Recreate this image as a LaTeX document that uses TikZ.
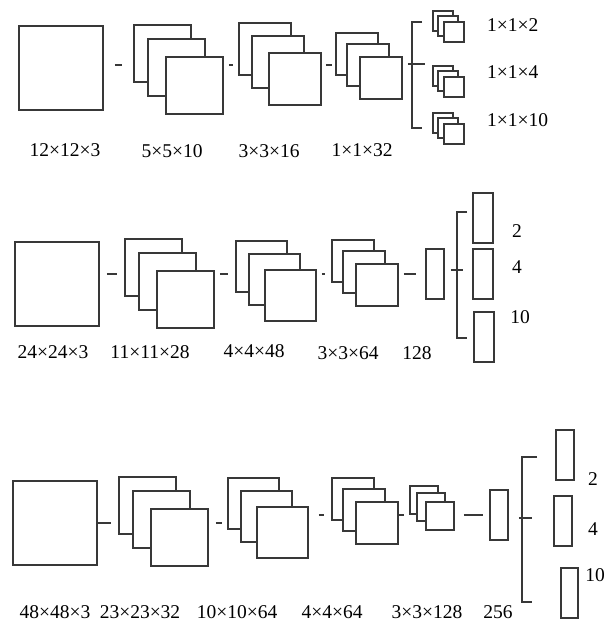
\documentclass[tikz,border=0pt]{standalone}
\usepackage{fontspec}
\setmainfont{Liberation Serif}
\usepackage{tikz}
\usetikzlibrary{positioning}

\begin{document}
\begin{tikzpicture}[x=1pt, y=-1pt,
  fmap/.style={draw=black!78, line width=1.8pt, fill=white, inner sep=0pt,
    minimum width=#1pt, minimum height=#1pt, anchor=north west},
  vbox/.style={draw=black!78, line width=1.8pt, fill=white, inner sep=0pt,
    minimum width=18pt, minimum height=50pt, anchor=north west},
  link/.style={draw=black!78, line width=1.8pt},
  lbl/.style={font=\fontsize{19.5}{22}\selectfont, inner sep=0pt}
]

  % Canvas
  \path[use as bounding box, fill=white] (0,0) rectangle (613,624);

  % Input images
  \node[fmap=84] (in1) at (18,25) {};
  \node[fmap=84] (in2) at (14,241) {};
  \node[fmap=84] (in3) at (12,480) {};

  % Feature map stacks (back, middle, front)
  \foreach \n/\x/\y/\s in {
    T2/133/24/57, T3/238/22/52, T4/335/32/42,
    O1/432/10/20, O2/432/65/20, O3/432/112/20,
    M2/124/238/57, M3/235/240/51, M4/331/239/42,
    B2/118/476/57, B3/227/477/51, B4/331/477/42, B5/409/485/28
  }{
    \foreach \k/\f in {a/0, b/0.25, c/0.57}{
      \node[fmap=\s] (\n\k) at ({\x+round(\f*\s)},{\y+round(\f*\s)}) {};
    }
  }

  % Vectors and outputs
  \node[vbox] (vec2) at (425,248) {};
  \node[vbox] (vec3) at (489,489) {};
  \node[vbox, minimum width=20pt] (out2a) at (472,192) {};
  \node[vbox, minimum width=20pt] (out2b) at (472,248) {};
  \node[vbox, minimum width=20pt] (out2c) at (473,311) {};
  \node[vbox] (out3a) at (555,429) {};
  \node[vbox] (out3b) at (553,495) {};
  \node[vbox, minimum width=17pt] (out3c) at (560,567) {};

  % Connectors between layers
  \foreach \a/\b/\s/\t in {in1/T2a/11/11, T2c/T3a/5/5, T3c/T4a/4/3}{
    \draw[link, shorten <=\s pt, shorten >=\t pt] (\a.east |- T4b) -- (\b.west |- T4b);
  }
  \foreach \a/\b/\s/\t in {in2/M2a/7/7, M2c/M3a/5/7, M3c/M4a/5/6, M4c/vec2/5/9}{
    \draw[link, shorten <=\s pt, shorten >=\t pt] (\a.east |- vec2) -- (\b.west |- vec2);
  }
  \foreach \a/\b/\s/\t in {in3/B2a/0/7, B2c/B3a/7/5}{
    \draw[link, shorten <=\s pt, shorten >=\t pt] (\a.east |- in3) -- (\b.west |- in3);
  }
  \foreach \a/\b/\s/\t in {B3c/B4a/10/7, B4c/B5a/0/5, B5c/vec3/9/6}{
    \draw[link, shorten <=\s pt, shorten >=\t pt] (\a.east |- vec3) -- (\b.west |- vec3);
  }

  % Branch brackets
  \coordinate (br1t) at (412,22);  \coordinate (br1b) at (412,128); \coordinate (br1e) at (425,64);
  \coordinate (br2t) at (457,212); \coordinate (br2b) at (457,338); \coordinate (br2e) at (463,270);
  \coordinate (br3t) at (522,457); \coordinate (br3b) at (522,602); \coordinate (br3e) at (532,518);
  \draw[link] ([xshift=10pt]br1t) -- (br1t) -- (br1b) -- ([xshift=10pt]br1b);
  \draw[link] ([xshift=10pt]br2t) -- (br2t) -- (br2b) -- ([xshift=10pt]br2b);
  \draw[link] ([xshift=15pt]br3t) -- (br3t) -- (br3b) -- ([xshift=10pt]br3b);
  \draw[link, shorten <=5pt] (T4c.east |- br1e) -- (br1e);
  \draw[link, shorten <=6pt] (vec2.east |- br2e) -- (br2e);
  \draw[link, shorten <=10pt] (vec3.east |- br3e) -- (br3e);

  % Size labels
  \foreach \n/\x/\y/\t in {
    l11/65/150/12×12×3, l12/172/151/5×5×10, l13/269/151/3×3×16, l14/362/150/1×1×32,
    l21/53/352/24×24×3, l22/150/352/11×11×28, l23/254/351/4×4×48, l24/348/353/3×3×64, l25/417/353/128,
    l31/55/612/48×48×3, l32/140/612/23×23×32, l33/237/612/10×10×64, l34/332/612/4×4×64,
    l35/427/612/3×3×128, l36/498/612/256
  }{
    \node[lbl] (\n) at (\x,\y) {\t};
  }
  \foreach \n/\y/\t in {o11/25/1×1×2, o12/72/1×1×4, o13/120/1×1×10}{
    \node[lbl, anchor=west] (\n) at (487,\y) {\t};
  }
  \foreach \n/\x/\y/\t in {o21/517/231/2, o22/517/267/4, o23/520/317/10,
    o31/593/479/2, o32/593/529/4, o33/595/575/10}{
    \node[lbl] (\n) at (\x,\y) {\t};
  }

\end{tikzpicture}
\end{document}
